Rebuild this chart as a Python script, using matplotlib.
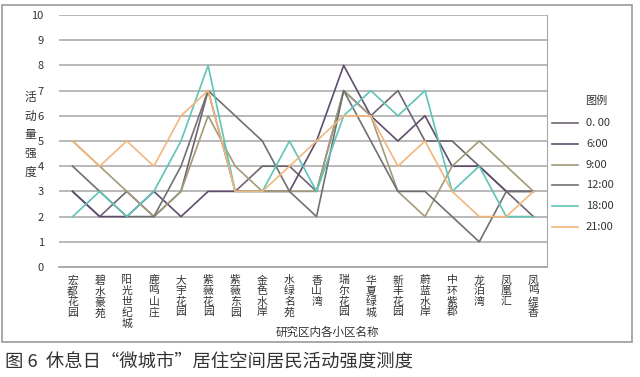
import matplotlib
matplotlib.use('Agg')
import matplotlib.pyplot as plt
from matplotlib.lines import Line2D
from matplotlib.patches import Rectangle

plt.rcParams['font.family'] = ['Noto Sans CJK SC', 'DejaVu Sans']

# categories (residential communities)
cats = ['宏都花园', '碧水豪苑', '阳光世纪城', '鹿鸣山庄', '大宇花园', '紫薇花园',
        '紫薇东园', '金色水岸', '水绿名苑', '香山湾', '瑞尔花园', '华夏绿城',
        '新丰花园', '蔚蓝水岸', '中环紫郡', '龙泊湾', '凤凰汇', '凤鸣缇香']

# activity intensity per time of day
v_0000 = [3, 2, 3, 2, 3, 7, 3, 4, 4, 3, 7, 6, 7, 5, 5, 4, 3, 2]
v_0600 = [3, 2, 2, 3, 2, 3, 3, 3, 3, 5, 8, 6, 5, 6, 4, 4, 3, 3]
v_0900 = [5, 4, 3, 2, 3, 6, 4, 3, 3, 3, 7, 6, 3, 2, 4, 5, 4, 3]
v_1200 = [4, 3, 2, 2, 4, 7, 6, 5, 3, 2, 7, 5, 3, 3, 2, 1, 3, 3]
v_1800 = [2, 3, 2, 3, 5, 8, 3, 3, 5, 3, 6, 7, 6, 7, 3, 4, 2, 2]
v_2100 = [5, 4, 5, 4, 6, 7, 3, 3, 4, 5, 6, 6, 4, 5, 3, 2, 2, 3]

labels = ['0. 00', '6:00', '9:00', '12:00', '18:00', '21:00']
colors = ['#6e6472', '#5f4d6c', '#a39a78', '#707070', '#5fc4b6', '#f2b67c']
series = [v_0000, v_0600, v_0900, v_1200, v_1800, v_2100]

W, H = 640, 377
fig = plt.figure(figsize=(W / 100, H / 100), dpi=100)

# outer frame of the chart
fig.patches.append(Rectangle((2 / W, 1 - 342 / H), 630 / W, 337 / H,
                             transform=fig.transFigure, fill=False,
                             edgecolor='#9a9a9a', linewidth=1.2))

ax = fig.add_axes([59 / W, 1 - 267 / H, 488 / W, 252 / H])
x = range(len(cats))
for vals, c in zip(series, colors):
    ax.plot(x, vals, color=c, linewidth=1.2)

ax.set_xlim(-0.5, len(cats) - 0.5)
ax.set_ylim(0, 10)
ax.set_yticks(range(0, 11))
ax.yaxis.grid(True, color='#a6a6a6', linewidth=1.1)
ax.set_axisbelow(True)
for s in ['top', 'left']:
    ax.spines[s].set_visible(False)
ax.spines['right'].set_color('#a6a6a6')
ax.spines['bottom'].set_color('#a6a6a6')
ax.spines['bottom'].set_linewidth(1.3)
ax.tick_params(axis='both', length=0, colors='#333333')
ax.tick_params(axis='y', pad=11, labelsize=8)
ax.set_xticks(list(x))
ax.set_xticklabels(['\n'.join(c) for c in cats], fontsize=7.8, linespacing=1.08,
                   va='top')
ax.tick_params(axis='x', pad=6)

# y label with stacked characters
fig.text(30 / W, 1 - 135 / H, '\n'.join('活动量强度'), fontsize=8.5, color='#333333',
         ha='center', va='center', linespacing=1.55)
# x label
fig.text(327 / W, 1 - 332 / H, '研究区内各小区名称', fontsize=8.3, color='#333333',
         ha='center', va='center')

# legend
fig.text(596 / W, 1 - 101 / H, '图例', fontsize=8, color='#333333',
         ha='center', va='center')
for i, (lab, c) in enumerate(zip(labels, colors)):
    yy = 1 - (123 + 20.8 * i) / H
    fig.lines.append(Line2D([552 / W, 578 / W], [yy, yy], color=c, linewidth=1.2,
                            transform=fig.transFigure))
    fig.text(586 / W, yy, lab, fontsize=8, color='#333333', ha='left', va='center')

# caption
fig.text(5 / W, 1 - 363 / H, '图 6  休息日“微城市”居住空间居民活动强度测度',
         fontsize=13.2, color='#333333', ha='left', va='center')

fig.savefig('out.png', dpi=100)
